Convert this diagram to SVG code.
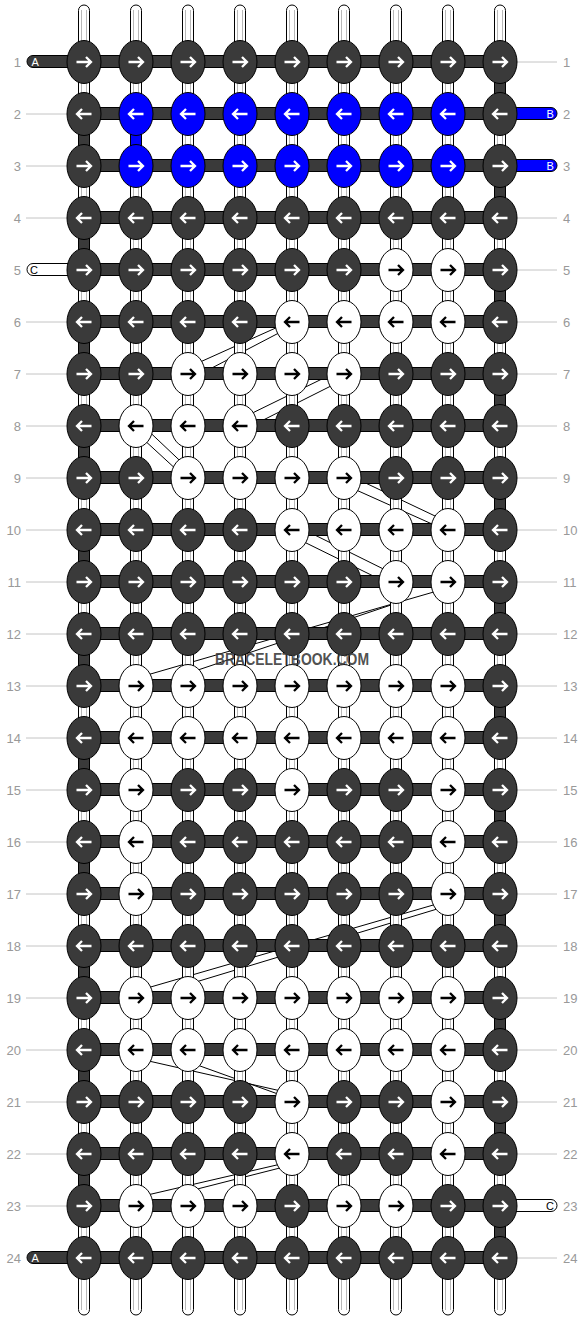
<svg xmlns="http://www.w3.org/2000/svg" width="584" height="1320" viewBox="0 0 584 1320">
<style>
.lbl{font-family:"Liberation Sans",Arial,sans-serif;font-size:13px;fill:#999}
.lr{text-anchor:end}
.tl{font-family:"Liberation Sans",Arial,sans-serif;font-size:11px}
.gl{stroke:#c4c4c4;stroke-width:1}
.tube{fill:#fff;stroke:#000;stroke-width:1}
.tin{stroke:#b8b8b8;stroke-width:1}
.bar{fill:#3a3a3a;stroke:#000;stroke-width:1}
.vd{fill:#3a3a3a;stroke:#000;stroke-width:1}
.vb{fill:#0000ff;stroke:#000;stroke-width:1}
.fl{stroke:#000;stroke-width:1;fill:none}
</style>
<defs>
<path id="R" d="M-7.5,0H6.5M2,-5L7,0L2,5" fill="none" stroke-width="2.3"/>
<path id="L" d="M7.5,0H-6.5M-2,-5L-7,0L-2,5" fill="none" stroke-width="2.3"/>
<g id="DR"><ellipse rx="17" ry="21.5" fill="#3a3a3a" stroke="#000"/><use href="#R" stroke="#fff"/></g>
<g id="DL"><ellipse rx="17" ry="21.5" fill="#3a3a3a" stroke="#000"/><use href="#L" stroke="#fff"/></g>
<g id="BR"><ellipse rx="17" ry="21.5" fill="#0000ff" stroke="#000"/><use href="#R" stroke="#fff"/></g>
<g id="BL"><ellipse rx="17" ry="21.5" fill="#0000ff" stroke="#000"/><use href="#L" stroke="#fff"/></g>
<g id="WR"><ellipse rx="17" ry="21.5" fill="#fff" stroke="#000"/><use href="#R" stroke="#000"/></g>
<g id="WL"><ellipse rx="17" ry="21.5" fill="#fff" stroke="#000"/><use href="#L" stroke="#000"/></g>
</defs>
<rect width="584" height="1320" fill="#fff"/>

<g id="labels">
<g class="gl">
<line x1="26" y1="114" x2="67" y2="114"/><line x1="26" y1="166" x2="67" y2="166"/><line x1="26" y1="218" x2="67" y2="218"/>
<line x1="26" y1="322" x2="67" y2="322"/><line x1="26" y1="374" x2="67" y2="374"/><line x1="26" y1="426" x2="67" y2="426"/>
<line x1="26" y1="478" x2="67" y2="478"/><line x1="26" y1="530" x2="67" y2="530"/><line x1="26" y1="582" x2="67" y2="582"/>
<line x1="26" y1="634" x2="67" y2="634"/><line x1="26" y1="686" x2="67" y2="686"/><line x1="26" y1="738" x2="67" y2="738"/>
<line x1="26" y1="790" x2="67" y2="790"/><line x1="26" y1="842" x2="67" y2="842"/><line x1="26" y1="894" x2="67" y2="894"/>
<line x1="26" y1="946" x2="67" y2="946"/><line x1="26" y1="998" x2="67" y2="998"/><line x1="26" y1="1050" x2="67" y2="1050"/>
<line x1="26" y1="1102" x2="67" y2="1102"/><line x1="26" y1="1154" x2="67" y2="1154"/><line x1="26" y1="1206" x2="67" y2="1206"/>
<line x1="517" y1="62" x2="557" y2="62"/><line x1="517" y1="218" x2="557" y2="218"/><line x1="517" y1="270" x2="557" y2="270"/>
<line x1="517" y1="322" x2="557" y2="322"/><line x1="517" y1="374" x2="557" y2="374"/><line x1="517" y1="426" x2="557" y2="426"/>
<line x1="517" y1="478" x2="557" y2="478"/><line x1="517" y1="530" x2="557" y2="530"/><line x1="517" y1="582" x2="557" y2="582"/>
<line x1="517" y1="634" x2="557" y2="634"/><line x1="517" y1="686" x2="557" y2="686"/><line x1="517" y1="738" x2="557" y2="738"/>
<line x1="517" y1="790" x2="557" y2="790"/><line x1="517" y1="842" x2="557" y2="842"/><line x1="517" y1="894" x2="557" y2="894"/>
<line x1="517" y1="946" x2="557" y2="946"/><line x1="517" y1="998" x2="557" y2="998"/><line x1="517" y1="1050" x2="557" y2="1050"/>
<line x1="517" y1="1102" x2="557" y2="1102"/><line x1="517" y1="1154" x2="557" y2="1154"/><line x1="517" y1="1258" x2="557" y2="1258"/>
</g>
<g class="lbl lr">
<text x="21" y="66.5">1</text><text x="21" y="118.5">2</text><text x="21" y="170.5">3</text><text x="21" y="222.5">4</text>
<text x="21" y="274.5">5</text><text x="21" y="326.5">6</text><text x="21" y="378.5">7</text><text x="21" y="430.5">8</text>
<text x="21" y="482.5">9</text><text x="21" y="534.5">10</text><text x="21" y="586.5">11</text><text x="21" y="638.5">12</text>
<text x="21" y="690.5">13</text><text x="21" y="742.5">14</text><text x="21" y="794.5">15</text><text x="21" y="846.5">16</text>
<text x="21" y="898.5">17</text><text x="21" y="950.5">18</text><text x="21" y="1002.5">19</text><text x="21" y="1054.5">20</text>
<text x="21" y="1106.5">21</text><text x="21" y="1158.5">22</text><text x="21" y="1210.5">23</text><text x="21" y="1262.5">24</text>
</g>
<g class="lbl">
<text x="563" y="66.5">1</text><text x="563" y="118.5">2</text><text x="563" y="170.5">3</text><text x="563" y="222.5">4</text>
<text x="563" y="274.5">5</text><text x="563" y="326.5">6</text><text x="563" y="378.5">7</text><text x="563" y="430.5">8</text>
<text x="563" y="482.5">9</text><text x="563" y="534.5">10</text><text x="563" y="586.5">11</text><text x="563" y="638.5">12</text>
<text x="563" y="690.5">13</text><text x="563" y="742.5">14</text><text x="563" y="794.5">15</text><text x="563" y="846.5">16</text>
<text x="563" y="898.5">17</text><text x="563" y="950.5">18</text><text x="563" y="1002.5">19</text><text x="563" y="1054.5">20</text>
<text x="563" y="1106.5">21</text><text x="563" y="1158.5">22</text><text x="563" y="1210.5">23</text><text x="563" y="1262.5">24</text>
</g>
</g>

<g id="connectors">
<g id="floats" class="fl">
<line x1="279" y1="326.5" x2="199" y2="362.5"/><line x1="282" y1="331.3" x2="208" y2="370"/>
<line x1="323.6" y1="378.2" x2="251.4" y2="413.5"/><line x1="331.9" y1="385.5" x2="259.7" y2="421.8"/>
<line x1="149.8" y1="432.2" x2="182.9" y2="463.5"/><line x1="143.1" y1="439" x2="176.2" y2="469.4"/>
<line x1="356.4" y1="490.1" x2="435.6" y2="525.6"/><line x1="364.7" y1="482.6" x2="438.6" y2="517.7"/>
<line x1="303.1" y1="541.5" x2="376.9" y2="577.8"/><line x1="313.1" y1="534.2" x2="383.6" y2="569.1"/>
<line x1="435.8" y1="591.4" x2="149.2" y2="674.4"/><line x1="400.8" y1="601.7" x2="196.2" y2="670.6"/>
<line x1="437.1" y1="903.9" x2="147.9" y2="987.8"/><line x1="437.8" y1="908.8" x2="196.2" y2="981.9"/>
<line x1="147.8" y1="1060.8" x2="280.6" y2="1090.9"/><line x1="196.2" y1="1064.6" x2="281.8" y2="1095.4"/>
<line x1="280.6" y1="1164.1" x2="147.8" y2="1194.9"/><line x1="279.9" y1="1168" x2="196.1" y2="1189.3"/>
</g>
<g id="warps">
<rect class="tube" x="78.5" y="5" width="11" height="1310" rx="5.5"/>
<rect class="tube" x="130.5" y="5" width="11" height="1310" rx="5.5"/>
<rect class="tube" x="182.5" y="5" width="11" height="1310" rx="5.5"/>
<rect class="tube" x="234.5" y="5" width="11" height="1310" rx="5.5"/>
<rect class="tube" x="286.5" y="5" width="11" height="1310" rx="5.5"/>
<rect class="tube" x="338.5" y="5" width="11" height="1310" rx="5.5"/>
<rect class="tube" x="390.5" y="5" width="11" height="1310" rx="5.5"/>
<rect class="tube" x="442.5" y="5" width="11" height="1310" rx="5.5"/>
<rect class="tube" x="494.5" y="5" width="11" height="1310" rx="5.5"/>
<g class="tin">
<line x1="81.5" y1="10" x2="81.5" y2="1310"/><line x1="86.5" y1="10" x2="86.5" y2="1310"/>
<line x1="133.5" y1="10" x2="133.5" y2="1310"/><line x1="138.5" y1="10" x2="138.5" y2="1310"/>
<line x1="185.5" y1="10" x2="185.5" y2="1310"/><line x1="190.5" y1="10" x2="190.5" y2="1310"/>
<line x1="237.5" y1="10" x2="237.5" y2="1310"/><line x1="242.5" y1="10" x2="242.5" y2="1310"/>
<line x1="289.5" y1="10" x2="289.5" y2="1310"/><line x1="294.5" y1="10" x2="294.5" y2="1310"/>
<line x1="341.5" y1="10" x2="341.5" y2="1310"/><line x1="346.5" y1="10" x2="346.5" y2="1310"/>
<line x1="393.5" y1="10" x2="393.5" y2="1310"/><line x1="398.5" y1="10" x2="398.5" y2="1310"/>
<line x1="445.5" y1="10" x2="445.5" y2="1310"/><line x1="450.5" y1="10" x2="450.5" y2="1310"/>
<line x1="497.5" y1="10" x2="497.5" y2="1310"/><line x1="502.5" y1="10" x2="502.5" y2="1310"/>
</g>
</g>
<g id="turns">
<rect class="vd" x="494.5" y="77" width="11" height="22"/><rect class="vd" x="494.5" y="181" width="11" height="22"/>
<rect class="vd" x="494.5" y="285" width="11" height="22"/><rect class="vd" x="494.5" y="389" width="11" height="22"/>
<rect class="vd" x="494.5" y="493" width="11" height="22"/><rect class="vd" x="494.5" y="597" width="11" height="22"/>
<rect class="vd" x="494.5" y="701" width="11" height="22"/><rect class="vd" x="494.5" y="805" width="11" height="22"/>
<rect class="vd" x="494.5" y="909" width="11" height="22"/><rect class="vd" x="494.5" y="1013" width="11" height="22"/>
<rect class="vd" x="494.5" y="1117" width="11" height="22"/><rect class="vd" x="494.5" y="1221" width="11" height="22"/>
<rect class="vd" x="78.5" y="129" width="11" height="22"/><rect class="vd" x="78.5" y="233" width="11" height="22"/>
<rect class="vd" x="78.5" y="337" width="11" height="22"/><rect class="vd" x="78.5" y="441" width="11" height="22"/>
<rect class="vd" x="78.5" y="545" width="11" height="22"/><rect class="vd" x="78.5" y="649" width="11" height="22"/>
<rect class="vd" x="78.5" y="753" width="11" height="22"/><rect class="vd" x="78.5" y="857" width="11" height="22"/>
<rect class="vd" x="78.5" y="961" width="11" height="22"/><rect class="vd" x="78.5" y="1065" width="11" height="22"/>
<rect class="vd" x="78.5" y="1169" width="11" height="22"/>
<rect class="vb" x="130.5" y="129" width="11" height="22"/>
</g>
<g id="rows" class="bar">
<rect x="84" y="55.5" width="416" height="12"/><rect x="84" y="107.5" width="416" height="12"/>
<rect x="84" y="159.5" width="416" height="12"/><rect x="84" y="211.5" width="416" height="12"/>
<rect x="84" y="263.5" width="416" height="12"/><rect x="84" y="315.5" width="416" height="12"/>
<rect x="84" y="367.5" width="416" height="12"/><rect x="84" y="419.5" width="416" height="12"/>
<rect x="84" y="471.5" width="416" height="12"/><rect x="84" y="523.5" width="416" height="12"/>
<rect x="84" y="575.5" width="416" height="12"/><rect x="84" y="627.5" width="416" height="12"/>
<rect x="84" y="679.5" width="416" height="12"/><rect x="84" y="731.5" width="416" height="12"/>
<rect x="84" y="783.5" width="416" height="12"/><rect x="84" y="835.5" width="416" height="12"/>
<rect x="84" y="887.5" width="416" height="12"/><rect x="84" y="939.5" width="416" height="12"/>
<rect x="84" y="991.5" width="416" height="12"/><rect x="84" y="1043.5" width="416" height="12"/>
<rect x="84" y="1095.5" width="416" height="12"/><rect x="84" y="1147.5" width="416" height="12"/>
<rect x="84" y="1199.5" width="416" height="12"/><rect x="84" y="1251.5" width="416" height="12"/>
</g>
<g id="tails">
<rect x="27" y="55.5" width="50" height="12" rx="6" fill="#3a3a3a" stroke="#000"/>
<text class="tl" x="31.5" y="65.5" fill="#fff">A</text>
<rect x="27" y="1251.5" width="50" height="12" rx="6" fill="#3a3a3a" stroke="#000"/>
<text class="tl" x="31.5" y="1261.5" fill="#fff">A</text>
<rect x="27" y="263.5" width="50" height="12" rx="6" fill="#fff" stroke="#000"/>
<text class="tl" x="30" y="273.5" fill="#000">C</text>
<rect x="507" y="107.5" width="50" height="12" rx="6" fill="#0000ff" stroke="#000"/>
<text class="tl" x="546.5" y="117.5" fill="#fff">B</text>
<rect x="507" y="159.5" width="50" height="12" rx="6" fill="#0000ff" stroke="#000"/>
<text class="tl" x="546.5" y="169.5" fill="#fff">B</text>
<rect x="507" y="1199.5" width="50" height="12" rx="6" fill="#fff" stroke="#000"/>
<text class="tl" x="546" y="1209.5" fill="#000">C</text>
</g>
</g>

<g id="knots">
<g id="k1-1"><use href="#DR" x="84" y="62"/></g><g id="k1-2"><use href="#DR" x="136" y="62"/></g><g id="k1-3"><use href="#DR" x="188" y="62"/></g><g id="k1-4"><use href="#DR" x="240" y="62"/></g><g id="k1-5"><use href="#DR" x="292" y="62"/></g><g id="k1-6"><use href="#DR" x="344" y="62"/></g><g id="k1-7"><use href="#DR" x="396" y="62"/></g><g id="k1-8"><use href="#DR" x="448" y="62"/></g><g id="k1-9"><use href="#DR" x="500" y="62"/></g>
<g id="k2-1"><use href="#DL" x="84" y="114"/></g><g id="k2-2"><use href="#BL" x="136" y="114"/></g><g id="k2-3"><use href="#BL" x="188" y="114"/></g><g id="k2-4"><use href="#BL" x="240" y="114"/></g><g id="k2-5"><use href="#BL" x="292" y="114"/></g><g id="k2-6"><use href="#BL" x="344" y="114"/></g><g id="k2-7"><use href="#BL" x="396" y="114"/></g><g id="k2-8"><use href="#BL" x="448" y="114"/></g><g id="k2-9"><use href="#DL" x="500" y="114"/></g>
<g id="k3-1"><use href="#DR" x="84" y="166"/></g><g id="k3-2"><use href="#BR" x="136" y="166"/></g><g id="k3-3"><use href="#BR" x="188" y="166"/></g><g id="k3-4"><use href="#BR" x="240" y="166"/></g><g id="k3-5"><use href="#BR" x="292" y="166"/></g><g id="k3-6"><use href="#BR" x="344" y="166"/></g><g id="k3-7"><use href="#BR" x="396" y="166"/></g><g id="k3-8"><use href="#BR" x="448" y="166"/></g><g id="k3-9"><use href="#DR" x="500" y="166"/></g>
<g id="k4-1"><use href="#DL" x="84" y="218"/></g><g id="k4-2"><use href="#DL" x="136" y="218"/></g><g id="k4-3"><use href="#DL" x="188" y="218"/></g><g id="k4-4"><use href="#DL" x="240" y="218"/></g><g id="k4-5"><use href="#DL" x="292" y="218"/></g><g id="k4-6"><use href="#DL" x="344" y="218"/></g><g id="k4-7"><use href="#DL" x="396" y="218"/></g><g id="k4-8"><use href="#DL" x="448" y="218"/></g><g id="k4-9"><use href="#DL" x="500" y="218"/></g>
<g id="k5-1"><use href="#DR" x="84" y="270"/></g><g id="k5-2"><use href="#DR" x="136" y="270"/></g><g id="k5-3"><use href="#DR" x="188" y="270"/></g><g id="k5-4"><use href="#DR" x="240" y="270"/></g><g id="k5-5"><use href="#DR" x="292" y="270"/></g><g id="k5-6"><use href="#DR" x="344" y="270"/></g><g id="k5-7"><use href="#WR" x="396" y="270"/></g><g id="k5-8"><use href="#WR" x="448" y="270"/></g><g id="k5-9"><use href="#DR" x="500" y="270"/></g>
<g id="k6-1"><use href="#DL" x="84" y="322"/></g><g id="k6-2"><use href="#DL" x="136" y="322"/></g><g id="k6-3"><use href="#DL" x="188" y="322"/></g><g id="k6-4"><use href="#DL" x="240" y="322"/></g><g id="k6-5"><use href="#WL" x="292" y="322"/></g><g id="k6-6"><use href="#WL" x="344" y="322"/></g><g id="k6-7"><use href="#WL" x="396" y="322"/></g><g id="k6-8"><use href="#WL" x="448" y="322"/></g><g id="k6-9"><use href="#DL" x="500" y="322"/></g>
<g id="k7-1"><use href="#DR" x="84" y="374"/></g><g id="k7-2"><use href="#DR" x="136" y="374"/></g><g id="k7-3"><use href="#WR" x="188" y="374"/></g><g id="k7-4"><use href="#WR" x="240" y="374"/></g><g id="k7-5"><use href="#WR" x="292" y="374"/></g><g id="k7-6"><use href="#WR" x="344" y="374"/></g><g id="k7-7"><use href="#DR" x="396" y="374"/></g><g id="k7-8"><use href="#DR" x="448" y="374"/></g><g id="k7-9"><use href="#DR" x="500" y="374"/></g>
<g id="k8-1"><use href="#DL" x="84" y="426"/></g><g id="k8-2"><use href="#WL" x="136" y="426"/></g><g id="k8-3"><use href="#WL" x="188" y="426"/></g><g id="k8-4"><use href="#WL" x="240" y="426"/></g><g id="k8-5"><use href="#DL" x="292" y="426"/></g><g id="k8-6"><use href="#DL" x="344" y="426"/></g><g id="k8-7"><use href="#DL" x="396" y="426"/></g><g id="k8-8"><use href="#DL" x="448" y="426"/></g><g id="k8-9"><use href="#DL" x="500" y="426"/></g>
<g id="k9-1"><use href="#DR" x="84" y="478"/></g><g id="k9-2"><use href="#DR" x="136" y="478"/></g><g id="k9-3"><use href="#WR" x="188" y="478"/></g><g id="k9-4"><use href="#WR" x="240" y="478"/></g><g id="k9-5"><use href="#WR" x="292" y="478"/></g><g id="k9-6"><use href="#WR" x="344" y="478"/></g><g id="k9-7"><use href="#DR" x="396" y="478"/></g><g id="k9-8"><use href="#DR" x="448" y="478"/></g><g id="k9-9"><use href="#DR" x="500" y="478"/></g>
<g id="k10-1"><use href="#DL" x="84" y="530"/></g><g id="k10-2"><use href="#DL" x="136" y="530"/></g><g id="k10-3"><use href="#DL" x="188" y="530"/></g><g id="k10-4"><use href="#DL" x="240" y="530"/></g><g id="k10-5"><use href="#WL" x="292" y="530"/></g><g id="k10-6"><use href="#WL" x="344" y="530"/></g><g id="k10-7"><use href="#WL" x="396" y="530"/></g><g id="k10-8"><use href="#WL" x="448" y="530"/></g><g id="k10-9"><use href="#DL" x="500" y="530"/></g>
<g id="k11-1"><use href="#DR" x="84" y="582"/></g><g id="k11-2"><use href="#DR" x="136" y="582"/></g><g id="k11-3"><use href="#DR" x="188" y="582"/></g><g id="k11-4"><use href="#DR" x="240" y="582"/></g><g id="k11-5"><use href="#DR" x="292" y="582"/></g><g id="k11-6"><use href="#DR" x="344" y="582"/></g><g id="k11-7"><use href="#WR" x="396" y="582"/></g><g id="k11-8"><use href="#WR" x="448" y="582"/></g><g id="k11-9"><use href="#DR" x="500" y="582"/></g>
<g id="k12-1"><use href="#DL" x="84" y="634"/></g><g id="k12-2"><use href="#DL" x="136" y="634"/></g><g id="k12-3"><use href="#DL" x="188" y="634"/></g><g id="k12-4"><use href="#DL" x="240" y="634"/></g><g id="k12-5"><use href="#DL" x="292" y="634"/></g><g id="k12-6"><use href="#DL" x="344" y="634"/></g><g id="k12-7"><use href="#DL" x="396" y="634"/></g><g id="k12-8"><use href="#DL" x="448" y="634"/></g><g id="k12-9"><use href="#DL" x="500" y="634"/></g>
<g id="k13-1"><use href="#DR" x="84" y="686"/></g><g id="k13-2"><use href="#WR" x="136" y="686"/></g><g id="k13-3"><use href="#WR" x="188" y="686"/></g><g id="k13-4"><use href="#WR" x="240" y="686"/></g><g id="k13-5"><use href="#WR" x="292" y="686"/></g><g id="k13-6"><use href="#WR" x="344" y="686"/></g><g id="k13-7"><use href="#WR" x="396" y="686"/></g><g id="k13-8"><use href="#WR" x="448" y="686"/></g><g id="k13-9"><use href="#DR" x="500" y="686"/></g>
<g id="k14-1"><use href="#DL" x="84" y="738"/></g><g id="k14-2"><use href="#WL" x="136" y="738"/></g><g id="k14-3"><use href="#WL" x="188" y="738"/></g><g id="k14-4"><use href="#WL" x="240" y="738"/></g><g id="k14-5"><use href="#WL" x="292" y="738"/></g><g id="k14-6"><use href="#WL" x="344" y="738"/></g><g id="k14-7"><use href="#WL" x="396" y="738"/></g><g id="k14-8"><use href="#WL" x="448" y="738"/></g><g id="k14-9"><use href="#DL" x="500" y="738"/></g>
<g id="k15-1"><use href="#DR" x="84" y="790"/></g><g id="k15-2"><use href="#WR" x="136" y="790"/></g><g id="k15-3"><use href="#DR" x="188" y="790"/></g><g id="k15-4"><use href="#DR" x="240" y="790"/></g><g id="k15-5"><use href="#WR" x="292" y="790"/></g><g id="k15-6"><use href="#DR" x="344" y="790"/></g><g id="k15-7"><use href="#DR" x="396" y="790"/></g><g id="k15-8"><use href="#WR" x="448" y="790"/></g><g id="k15-9"><use href="#DR" x="500" y="790"/></g>
<g id="k16-1"><use href="#DL" x="84" y="842"/></g><g id="k16-2"><use href="#WL" x="136" y="842"/></g><g id="k16-3"><use href="#DL" x="188" y="842"/></g><g id="k16-4"><use href="#DL" x="240" y="842"/></g><g id="k16-5"><use href="#DL" x="292" y="842"/></g><g id="k16-6"><use href="#DL" x="344" y="842"/></g><g id="k16-7"><use href="#DL" x="396" y="842"/></g><g id="k16-8"><use href="#WL" x="448" y="842"/></g><g id="k16-9"><use href="#DL" x="500" y="842"/></g>
<g id="k17-1"><use href="#DR" x="84" y="894"/></g><g id="k17-2"><use href="#WR" x="136" y="894"/></g><g id="k17-3"><use href="#DR" x="188" y="894"/></g><g id="k17-4"><use href="#DR" x="240" y="894"/></g><g id="k17-5"><use href="#DR" x="292" y="894"/></g><g id="k17-6"><use href="#DR" x="344" y="894"/></g><g id="k17-7"><use href="#DR" x="396" y="894"/></g><g id="k17-8"><use href="#WR" x="448" y="894"/></g><g id="k17-9"><use href="#DR" x="500" y="894"/></g>
<g id="k18-1"><use href="#DL" x="84" y="946"/></g><g id="k18-2"><use href="#DL" x="136" y="946"/></g><g id="k18-3"><use href="#DL" x="188" y="946"/></g><g id="k18-4"><use href="#DL" x="240" y="946"/></g><g id="k18-5"><use href="#DL" x="292" y="946"/></g><g id="k18-6"><use href="#DL" x="344" y="946"/></g><g id="k18-7"><use href="#DL" x="396" y="946"/></g><g id="k18-8"><use href="#DL" x="448" y="946"/></g><g id="k18-9"><use href="#DL" x="500" y="946"/></g>
<g id="k19-1"><use href="#DR" x="84" y="998"/></g><g id="k19-2"><use href="#WR" x="136" y="998"/></g><g id="k19-3"><use href="#WR" x="188" y="998"/></g><g id="k19-4"><use href="#WR" x="240" y="998"/></g><g id="k19-5"><use href="#WR" x="292" y="998"/></g><g id="k19-6"><use href="#WR" x="344" y="998"/></g><g id="k19-7"><use href="#WR" x="396" y="998"/></g><g id="k19-8"><use href="#WR" x="448" y="998"/></g><g id="k19-9"><use href="#DR" x="500" y="998"/></g>
<g id="k20-1"><use href="#DL" x="84" y="1050"/></g><g id="k20-2"><use href="#WL" x="136" y="1050"/></g><g id="k20-3"><use href="#WL" x="188" y="1050"/></g><g id="k20-4"><use href="#WL" x="240" y="1050"/></g><g id="k20-5"><use href="#WL" x="292" y="1050"/></g><g id="k20-6"><use href="#WL" x="344" y="1050"/></g><g id="k20-7"><use href="#WL" x="396" y="1050"/></g><g id="k20-8"><use href="#WL" x="448" y="1050"/></g><g id="k20-9"><use href="#DL" x="500" y="1050"/></g>
<g id="k21-1"><use href="#DR" x="84" y="1102"/></g><g id="k21-2"><use href="#DR" x="136" y="1102"/></g><g id="k21-3"><use href="#DR" x="188" y="1102"/></g><g id="k21-4"><use href="#DR" x="240" y="1102"/></g><g id="k21-5"><use href="#WR" x="292" y="1102"/></g><g id="k21-6"><use href="#DR" x="344" y="1102"/></g><g id="k21-7"><use href="#DR" x="396" y="1102"/></g><g id="k21-8"><use href="#WR" x="448" y="1102"/></g><g id="k21-9"><use href="#DR" x="500" y="1102"/></g>
<g id="k22-1"><use href="#DL" x="84" y="1154"/></g><g id="k22-2"><use href="#DL" x="136" y="1154"/></g><g id="k22-3"><use href="#DL" x="188" y="1154"/></g><g id="k22-4"><use href="#DL" x="240" y="1154"/></g><g id="k22-5"><use href="#WL" x="292" y="1154"/></g><g id="k22-6"><use href="#DL" x="344" y="1154"/></g><g id="k22-7"><use href="#DL" x="396" y="1154"/></g><g id="k22-8"><use href="#WL" x="448" y="1154"/></g><g id="k22-9"><use href="#DL" x="500" y="1154"/></g>
<g id="k23-1"><use href="#DR" x="84" y="1206"/></g><g id="k23-2"><use href="#WR" x="136" y="1206"/></g><g id="k23-3"><use href="#WR" x="188" y="1206"/></g><g id="k23-4"><use href="#WR" x="240" y="1206"/></g><g id="k23-5"><use href="#DR" x="292" y="1206"/></g><g id="k23-6"><use href="#WR" x="344" y="1206"/></g><g id="k23-7"><use href="#WR" x="396" y="1206"/></g><g id="k23-8"><use href="#DR" x="448" y="1206"/></g><g id="k23-9"><use href="#DR" x="500" y="1206"/></g>
<g id="k24-1"><use href="#DL" x="84" y="1258"/></g><g id="k24-2"><use href="#DL" x="136" y="1258"/></g><g id="k24-3"><use href="#DL" x="188" y="1258"/></g><g id="k24-4"><use href="#DL" x="240" y="1258"/></g><g id="k24-5"><use href="#DL" x="292" y="1258"/></g><g id="k24-6"><use href="#DL" x="344" y="1258"/></g><g id="k24-7"><use href="#DL" x="396" y="1258"/></g><g id="k24-8"><use href="#DL" x="448" y="1258"/></g><g id="k24-9"><use href="#DL" x="500" y="1258"/></g>
</g>

<text id="watermark" x="215" y="665" font-family="'Liberation Sans',Arial,sans-serif" font-weight="bold" font-size="16" textLength="154" lengthAdjust="spacingAndGlyphs" fill="#3a3a3a" fill-opacity="0.9">BRACELETBOOK.COM</text>
</svg>
